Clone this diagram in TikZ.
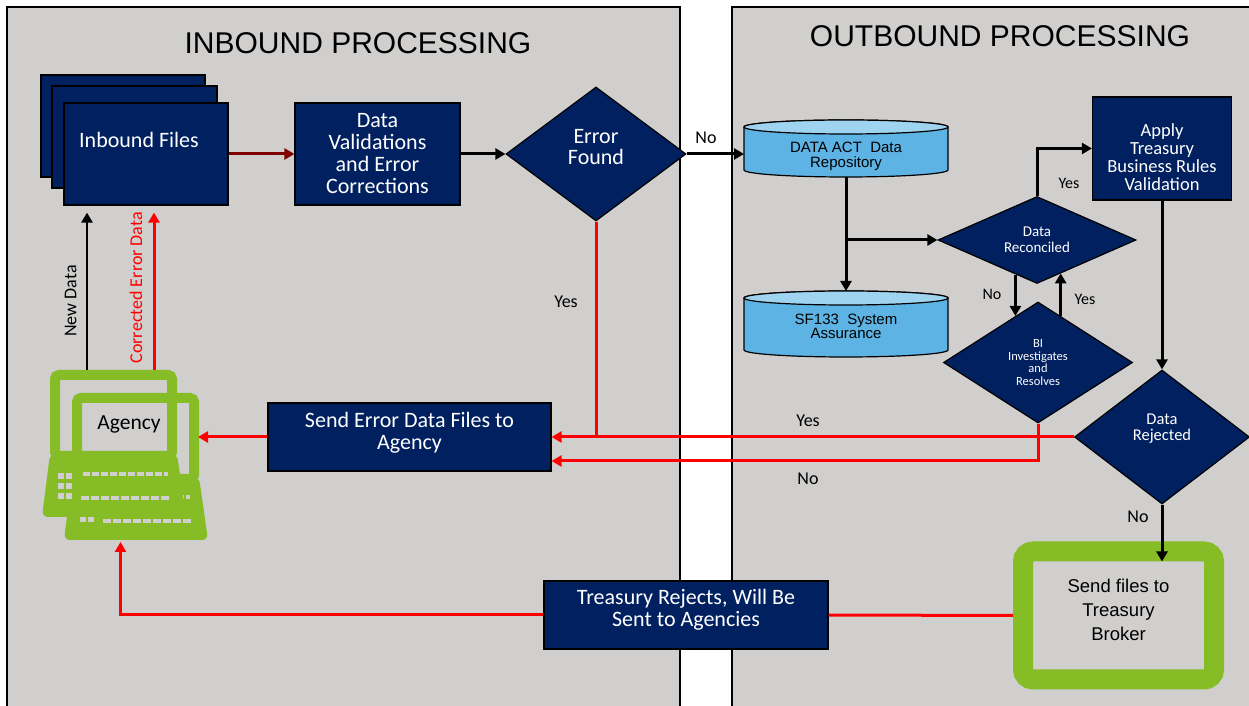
\documentclass[tikz,border=0pt]{standalone}
\usepackage{fontspec}
\setmainfont{Carlito}
\newfontfamily\arialfont{Liberation Sans}
\usetikzlibrary{shapes.geometric,arrows.meta,backgrounds}
\definecolor{panelgray}{HTML}{D0CFCE}
\definecolor{navy}{HTML}{002060}
\definecolor{dbblue}{HTML}{5DB3E4}
\definecolor{dbtop}{HTML}{9FD4F1}
\definecolor{lapgreen}{HTML}{86BC25}
\definecolor{maroon}{HTML}{800000}
\tikzset{
 navybox/.style={rectangle,draw=black,line width=1.2pt,fill=navy,text=white,align=center,inner sep=2pt,font=\fontsize{22}{22}\selectfont},
 decision/.style={diamond,draw=black,line width=1.2pt,fill=navy,text=white,align=center,inner sep=0pt},
 dbbox/.style={rectangle,inner sep=0pt,outer sep=0pt,align=center,font=\arialfont\fontsize{15}{14.5}\selectfont},
 flow/.style={->,line width=3pt},
 errflow/.style={->,line width=3pt,red},
 lbl/.style={font=\fontsize{18}{18}\selectfont},
 smalllbl/.style={font=\fontsize{16}{16}\selectfont},
 paneltitle/.style={font=\arialfont\fontsize{30}{30}\selectfont},
}
\begin{document}
\begin{tikzpicture}[x=1pt,y=1pt,>={Triangle[length=10pt,width=11pt]}]
 \useasboundingbox (0,0) rectangle (1249,706);
 \begin{scope}[on background layer]
  \fill[white] (0,0) rectangle (1249,706);
  \fill[panelgray] (7,-10) rectangle (680,699); %左パネル
  \fill[panelgray] (732,-10) rectangle (1260,699); %右パネル
  \draw[line width=1.5pt] (7,-10)--(7,699)--(680,699)--(680,-10);
  \draw[line width=1.5pt] (1260,699)--(732,699)--(732,-10);
 \end{scope}
 \node[paneltitle] (intitle) at (358,663) {INBOUND PROCESSING};
 \node[paneltitle] (outtitle) at (1000,670) {OUTBOUND PROCESSING};
 % 受信側
 \draw[fill=navy,line width=1.2pt] (41,631) rectangle (205,529);
 \draw[fill=navy,line width=1.2pt] (52,620) rectangle (217,518);
 \node[navybox,minimum width=164pt,minimum height=102pt,text depth=28pt] (infiles) at (146,552) {Inbound Files\hspace*{14pt}};
 \node[navybox,minimum width=165pt,minimum height=102pt] (valid) at (377.5,552) {Data\\Validations\\and Error\\Corrections};
 \node[decision,aspect=1.34,minimum width=180pt,minimum height=134pt,font=\fontsize{22}{21}\selectfont,text depth=14pt] (error) at (596,552) {Error\\Found};
 \node[navybox,minimum width=283pt,minimum height=68pt,text depth=12.5pt] (senderr) at (409.5,269) {Send Error Data Files to\\Agency};
 \node[navybox,minimum width=284pt,minimum height=68pt,text depth=14.5pt] (treasury) at (686,91) {Treasury Rejects, Will Be\\Sent to Agencies};
 % ノートPC
 \foreach \dx/\dy in {22/-23,0/0}{
  \draw[lapgreen,line width=10pt,rounded corners=4pt] (55+\dx,331+\dy) rectangle (172+\dx,250+\dy);
  \fill[lapgreen,rounded corners=6pt] (50+\dx,252+\dy)--(177+\dx,252+\dy)--(186+\dx,189+\dy)--(42+\dx,189+\dy)--cycle;
  \foreach \kx in {58,66}
   \foreach \ky in {207,217,227}
    \fill[panelgray] (\kx+\dx,\ky+\dy) rectangle ++(6,6);
  \draw[panelgray,line width=3.5pt,dash pattern=on 7pt off 2pt] (83+\dx,232+\dy)--(168+\dx,232+\dy);
  \draw[panelgray,line width=4pt,dash pattern=on 8pt off 2pt] (81+\dx,208+\dy)--(170+\dx,208+\dy);
 }
 \node[minimum width=155pt,minimum height=172pt,inner sep=0pt,outer sep=0pt] (laptop) at (120.5,250) {};
 \node[font=\fontsize{21.5}{22}\selectfont] (agency) at (129,282) {Agency};
 % 送信側
 \node[dbbox,minimum width=204pt,minimum height=57pt,text height=41pt] (repo) at (846,557.5) {DATA ACT\ \ Data\\Repository};
 \node[dbbox,minimum width=204pt,minimum height=66pt,text height=30pt] (sf) at (846,382) {SF133\ \ System\\Assurance};
 \begin{scope}[on background layer]
  \foreach \db in {repo,sf}{
   \draw[fill=dbblue,line width=1.2pt] ([yshift=-7pt]\db.north west)--([yshift=7pt]\db.south west) arc[start angle=180,end angle=360,x radius=102pt,y radius=7pt]--([yshift=-7pt]\db.north east) arc[start angle=0,end angle=180,x radius=102pt,y radius=7pt]--cycle;
   \draw[fill=dbtop,line width=1.2pt] ([yshift=-7pt]\db.north) ellipse[x radius=102pt,y radius=7pt];
  }
 \end{scope}
 \node[decision,aspect=2.28,minimum width=198pt,minimum height=87pt,font=\fontsize{15}{16}\selectfont] (recon) at (1037,466) {Data\\Reconciled};
 \node[decision,aspect=1.56,minimum width=189pt,minimum height=121pt,font=\fontsize{12.5}{12.7}\selectfont] (bi) at (1038,343.5) {BI\\Investigates\\and\\Resolves};
 \node[navybox,minimum width=139pt,minimum height=103pt,font=\fontsize{18.5}{18}\selectfont,text height=84pt] (apply) at (1162,557.5) {Apply\\Treasury\\Business Rules\\Validation};
 \node[decision,aspect=1.31,minimum width=175pt,minimum height=134pt,font=\fontsize{16.5}{16}\selectfont,text depth=19pt] (rejected) at (1162,269) {Data\\Rejected};
 \node[draw=lapgreen,line width=20pt,fill=panelgray,rounded corners=10pt,minimum width=191pt,minimum height=128pt,inner sep=0pt,align=center,font=\arialfont\fontsize{18.5}{24}\selectfont,text depth=11pt] (sendtb) at (1118.5,90.5) {Send files to\\Treasury\\Broker};
 % 黒の矢印
 \draw[flow,maroon] (infiles.east)--(valid.west);
 \draw[flow] (valid.east)--(error.west);
 \draw[flow] (error.east)--(error.east -| repo.west);
 \draw[flow] (repo.south)--(sf.north);
 \draw[flow] (repo.south |- recon.west)--(recon.west);
 \draw[flow] (recon.north) |- (apply.west);
 \draw[flow] (recon.238)--(recon.238 |- bi.116);
 \draw[flow] (bi.64)--(bi.64 |- recon.306);
 \draw[flow] (apply.south)--(rejected.north);
 \draw[flow,shorten >=-20pt] (rejected.south)--(rejected.south |- sendtb.north);
 \coordinate (newdata) at ([xshift=-33.5pt]laptop.north);
 \coordinate (corrdata) at ([xshift=33.5pt]laptop.north);
 \draw[flow,line width=2.5pt,shorten >=7pt] (newdata)--(newdata |- infiles.south) node[pos=0.42,above=6pt,sloped,lbl] (newlbl) {New Data};
 % 赤の矢印
 \draw[errflow,shorten >=7pt] (corrdata)--(corrdata |- infiles.south) node[pos=0.5,above=7pt,sloped,lbl] (corrlbl) {Corrected Error Data};
 \draw[red,line width=3pt] (error.south)--(error.south |- senderr.east);
 \draw[errflow] (rejected.west)--(senderr.east);
 \draw[errflow] (bi.south) |- ([yshift=-24pt]senderr.east);
 \draw[errflow] (senderr.west)--(senderr.west -| laptop.east);
 \draw[red,line width=3pt] (sendtb.west)--(treasury.east);
 \draw[errflow] (treasury.west) -| (laptop.south);
 % ラベル
 \node[lbl] (nolbl1) at (706,568) {No};
 \node[lbl] (yeslbl1) at (566,404) {Yes};
 \node[smalllbl] (yeslbl2) at (1069,523) {Yes};
 \node[smalllbl] (nolbl2) at (992,412) {No};
 \node[smalllbl] (yeslbl3) at (1085,407) {Yes};
 \node[lbl] (yeslbl4) at (808,285) {Yes};
 \node[lbl] (nolbl3) at (808,227) {No};
 \node[lbl] (nolbl4) at (1138,189) {No};
\end{tikzpicture}
\end{document}
